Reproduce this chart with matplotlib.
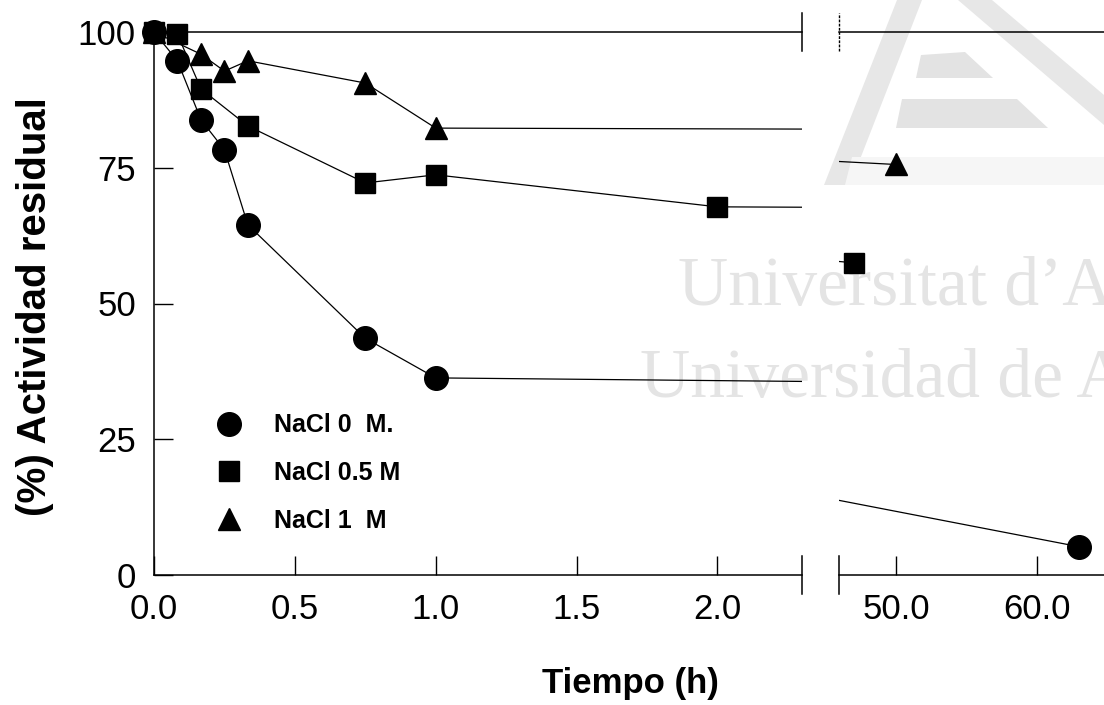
import matplotlib.pyplot as plt
from matplotlib.lines import Line2D
from matplotlib.patches import Polygon

plt.rcParams['font.family'] = ['Liberation Sans', 'DejaVu Sans']

# tiempo (h) / actividad residual (%)
t_nacl0 = [0.0, 0.083, 0.167, 0.25, 0.333, 0.75, 1.0, 63.0]
a_nacl0 = [100.0, 94.7, 83.8, 78.3, 64.5, 43.6, 36.3, 5.2]

t_nacl05 = [0.0, 0.083, 0.167, 0.333, 0.75, 1.0, 2.0, 47.0]
a_nacl05 = [100.0, 99.6, 89.5, 82.7, 72.2, 73.7, 67.8, 57.5]

t_nacl1 = [0.0, 0.167, 0.25, 0.333, 0.75, 1.0, 50.0]
a_nacl1 = [100.0, 95.9, 92.8, 94.7, 90.6, 82.3, 75.6]

labels = ['NaCl 0  M.', 'NaCl 0.5 M', 'NaCl 1  M']
left_ticks = [0.0, 0.5, 1.0, 1.5, 2.0]
right_ticks = [50.0, 60.0]
y_ticks = [0, 25, 50, 75, 100]

W, H = 1104, 705
fig = plt.figure(figsize=(W / 100, H / 100), dpi=100)


def px(x, y):
    return x / W, 1 - y / H


# watermark behind everything
wm = dict(family=['Liberation Serif', 'DejaVu Serif'], size=50, color='#e4e4e4', va='baseline', zorder=-5)
fig.text(*px(678, 305), 'Universitat d\u2019Alacant', **wm)
fig.text(*px(640, 397), 'Universidad de Alicante', **wm)

logo = [
    ([(824, 185), (850, 185), (922, 0), (897, 0)], '#e7e7e7'),
    ([(958, 0), (992, 0), (1104, 95), (1104, 125)], '#e7e7e7'),
    ([(916, 78), (921, 55), (965, 52), (993, 78)], '#e3e3e3'),
    ([(896, 128), (902, 99), (1017, 99), (1048, 128)], '#e3e3e3'),
    ([(852, 157), (1104, 157), (1104, 185), (845, 185)], '#f6f6f6'),
]
for pts, col in logo:
    fig.patches.append(Polygon([px(*p) for p in pts], closed=True, transform=fig.transFigure,
                               facecolor=col, edgecolor='none', zorder=-6))

bottom, top = px(0, 575)[1], px(0, 32)[1]
ax1 = fig.add_axes([154 / W, bottom, (802 - 154) / W, top - bottom])
ax2 = fig.add_axes([839 / W, bottom, (W - 839) / W, top - bottom])

series = [
    (t_nacl1, a_nacl1, '^', 16),
    (t_nacl05, a_nacl05, 's', 15),
    (t_nacl0, a_nacl0, 'o', 17),
]

for ax, (x0, x1) in ((ax1, (0, 2.3)), (ax2, (45.96, 64.75))):
    ax.set_xlim(x0, x1)
    ax.set_ylim(0, 100)
    ax.patch.set_visible(False)
    for t, a, m, ms in series:
        ax.plot(t, a, color='black', lw=0.9, zorder=2)
        tt = [v for v in t if x0 <= v <= x1]
        aa = [a[i] for i, v in enumerate(t) if x0 <= v <= x1]
        ax.plot(tt, aa, ls='none', marker=m, ms=ms, color='black', clip_on=False, zorder=3)
    for s in ax.spines.values():
        s.set_linewidth(1.1)
    ax.spines['right'].set_visible(False)
    ax.tick_params(direction='in', length=13.5, width=1.0, labelsize=25, pad=13, colors='black')

ax1.set_xticks(left_ticks)
ax1.set_xticklabels([f'{v:.1f}' for v in left_ticks])
ax1.set_yticks(y_ticks)
ax1.set_yticklabels([str(v) for v in y_ticks])

ax2.spines['left'].set_visible(False)
ax2.set_xticks(right_ticks)
ax2.set_xticklabels([f'{v:.1f}' for v in right_ticks])
ax2.set_yticks([])

# break marks on both sides of the gap
d = 19 / 543
for y in (0, 1):
    ax1.plot([1, 1], [y - d, y + d], transform=ax1.transAxes, color='black', lw=1.1, clip_on=False)
ax2.plot([0, 0], [-d, d], transform=ax2.transAxes, color='black', lw=1.1, clip_on=False)
ax2.plot([0, 0], [1 - d, 1 + d], transform=ax2.transAxes, color='black', lw=1.0,
         ls=(0, (2, 1)), clip_on=False)

handles = [Line2D([], [], ls='none', marker=m, ms=ms, color='black') for _, _, m, ms in series[::-1]]
ax1.legend(handles, labels, loc='center left', bbox_to_anchor=px(204, 473),
           bbox_transform=fig.transFigure, frameon=False, borderpad=0, handlelength=1.0,
           handletextpad=1.3, labelspacing=0.95, prop=dict(size=18, weight='bold'))

fig.text(*px(630, 683), 'Tiempo (h)', ha='center', va='center', size=25, weight='bold')
fig.text(*px(35, 307), '(%) Actividad residual', ha='center', va='center', rotation=90,
         size=29, weight='bold')

fig.savefig('out.png', dpi=100)
